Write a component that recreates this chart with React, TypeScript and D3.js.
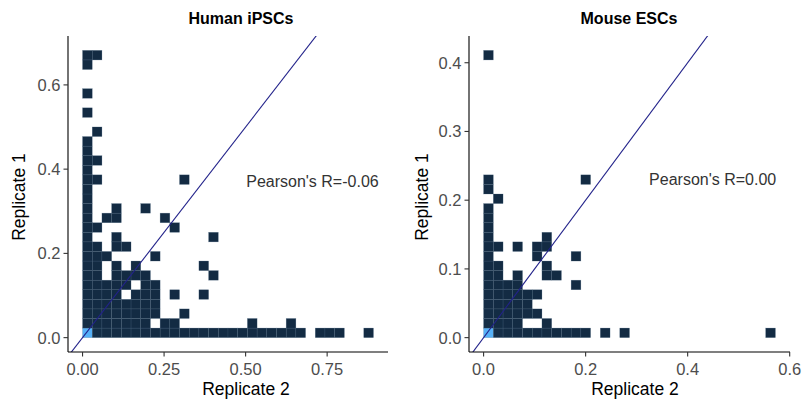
import React from "react";
import * as d3 from "d3";

// ---------- data ----------
const panelTitles = ["Human iPSCs", "Mouse ESCs"];
const pearsonLabels = ["Pearson's R=-0.06", "Pearson's R=0.00"];
// annotation anchor in data units [x, y]
const pearsonAnchors: [number, number][] = [
  [0.705, 0.371],
  [0.449, 0.23],
];

// data maxima (bins span 0..max, 30 bins each way)
const humanXMax = 0.892;
const humanYMax = 0.682;
const mouseXMax = 0.572;
const mouseYMax = 0.418;
const binsPerAxis = 30;

const humanXTicks = [0, 0.25, 0.5, 0.75];
const humanYTicks = [0, 0.2, 0.4, 0.6];
const mouseXTicks = [0, 0.2, 0.4, 0.6];
const mouseYTicks = [0, 0.1, 0.2, 0.3, 0.4];

// cells: [xBin, yBin, count]
const humanCells: [number, number, number][] = [
  [0, 0, 2600], [1, 0, 60], [2, 0, 35], [3, 0, 25], [4, 0, 18], [5, 0, 14], [6, 0, 10], [7, 0, 8],
  [8, 0, 6], [9, 0, 5], [10, 0, 4], [11, 0, 3], [12, 0, 3], [13, 0, 2], [14, 0, 2], [15, 0, 2],
  [16, 0, 2], [17, 0, 1], [18, 0, 1], [19, 0, 1], [20, 0, 1], [21, 0, 1], [22, 0, 1], [24, 0, 1],
  [25, 0, 1], [26, 0, 1], [29, 0, 1],
  [0, 1, 70], [1, 1, 20], [2, 1, 12], [3, 1, 8], [4, 1, 6], [5, 1, 4], [6, 1, 3], [8, 1, 1], [9, 1, 1],
  [17, 1, 1], [21, 1, 1],
  [0, 2, 40], [1, 2, 14], [2, 2, 9], [3, 2, 6], [4, 2, 4], [5, 2, 3], [6, 2, 2], [7, 2, 2], [10, 2, 1],
  [0, 3, 30], [1, 3, 10], [2, 3, 6], [3, 3, 4], [4, 3, 3], [5, 3, 2], [6, 3, 2], [7, 3, 1],
  [0, 4, 22], [1, 4, 8], [2, 4, 5], [3, 4, 3], [5, 4, 2], [6, 4, 1], [7, 4, 1], [9, 4, 1], [12, 4, 1],
  [0, 5, 18], [1, 5, 6], [2, 5, 4], [3, 5, 3], [4, 5, 2], [6, 5, 1], [7, 5, 1],
  [0, 6, 14], [1, 6, 5], [3, 6, 2], [4, 6, 1], [5, 6, 1], [6, 6, 1], [13, 6, 1],
  [0, 7, 12], [1, 7, 4], [3, 7, 1], [5, 7, 1], [12, 7, 1],
  [0, 8, 10], [1, 8, 3], [2, 8, 2], [7, 8, 1],
  [0, 9, 8], [1, 9, 3], [3, 9, 1], [4, 9, 1],
  [0, 10, 6], [3, 10, 1], [13, 10, 1],
  [0, 11, 5], [1, 11, 2], [9, 11, 1],
  [0, 12, 4], [2, 12, 1], [3, 12, 1], [8, 12, 1],
  [0, 13, 4], [3, 13, 1], [6, 13, 1],
  [0, 14, 3],
  [0, 15, 3],
  [0, 16, 2], [1, 16, 1], [10, 16, 1],
  [0, 17, 2],
  [0, 18, 2], [1, 18, 1],
  [0, 19, 1],
  [0, 20, 1],
  [1, 21, 1],
  [0, 23, 1],
  [0, 25, 1],
  [0, 28, 1],
  [0, 29, 1], [1, 29, 1],
];

const mouseCells: [number, number, number][] = [
  [0, 0, 1900], [1, 0, 50], [2, 0, 30], [3, 0, 20], [4, 0, 12], [5, 0, 8], [6, 0, 6], [7, 0, 4],
  [8, 0, 3], [9, 0, 2], [10, 0, 2], [12, 0, 1], [14, 0, 1], [29, 0, 1],
  [0, 1, 55], [1, 1, 16], [2, 1, 8], [3, 1, 4], [6, 1, 1],
  [0, 2, 35], [1, 2, 10], [2, 2, 6], [3, 2, 3], [4, 2, 2], [5, 2, 1],
  [0, 3, 25], [1, 3, 8], [2, 3, 4], [3, 3, 2], [4, 3, 1],
  [0, 4, 18], [1, 4, 6], [2, 4, 3], [3, 4, 2], [4, 4, 1], [5, 4, 1],
  [0, 5, 14], [1, 5, 4], [2, 5, 2], [3, 5, 1], [9, 5, 1],
  [0, 6, 10], [1, 6, 3], [3, 6, 1], [6, 6, 1], [7, 6, 1],
  [0, 7, 8], [1, 7, 2], [6, 7, 1],
  [0, 8, 6], [5, 8, 1], [9, 8, 1],
  [0, 9, 5], [1, 9, 1], [3, 9, 1], [5, 9, 1], [6, 9, 1],
  [0, 10, 4], [6, 10, 1],
  [0, 11, 3],
  [0, 12, 2],
  [0, 13, 2],
  [1, 14, 1],
  [0, 15, 1],
  [0, 16, 1], [10, 16, 1],
  [0, 29, 1],
];

// ---------- styling / layout ----------
const W = 804;
const H = 405;
const FONT = "'Liberation Sans', Arial, Helvetica, sans-serif";
const LOW = "#132B43";
const HIGH = "#56B1F7";

type PanelSpec = {
  title: string;
  label: string;
  anchor: [number, number];
  cells: [number, number, number][];
  xMax: number;
  yMax: number;
  xTicks: number[];
  yTicks: number[];
  xFmt: (v: number) => string;
  yFmt: (v: number) => string;
  left: number;
  right: number;
  titleX: number;
  xTitleX: number;
  yTitleX: number;
};

const top = 36;
const bottom = 352;

const panels: PanelSpec[] = [
  {
    title: panelTitles[0],
    label: pearsonLabels[0],
    anchor: pearsonAnchors[0],
    cells: humanCells,
    xMax: humanXMax,
    yMax: humanYMax,
    xTicks: humanXTicks,
    yTicks: humanYTicks,
    xFmt: d3.format(".2f"),
    yFmt: d3.format(".1f"),
    left: 68,
    right: 388,
    titleX: 241,
    xTitleX: 246,
    yTitleX: 25,
  },
  {
    title: panelTitles[1],
    label: pearsonLabels[1],
    anchor: pearsonAnchors[1],
    cells: mouseCells,
    xMax: mouseXMax,
    yMax: mouseYMax,
    xTicks: mouseXTicks,
    yTicks: mouseYTicks,
    xFmt: d3.format(".1f"),
    yFmt: d3.format(".1f"),
    left: 469,
    right: 790,
    titleX: 629,
    xTitleX: 635,
    yTitleX: 428,
  },
];

function Panel({ p, idx }: { p: PanelSpec; idx: number }) {
  const xPad = p.xMax * 0.05;
  const yPad = p.yMax * 0.05;
  const x = d3.scaleLinear().domain([-xPad, p.xMax + xPad]).range([p.left, p.right]);
  const y = d3.scaleLinear().domain([-yPad, p.yMax + yPad]).range([bottom, top]);
  const bwx = p.xMax / binsPerAxis;
  const bwy = p.yMax / binsPerAxis;
  const counts = p.cells.map((c) => c[2]);
  const color = d3
    .scaleLinear<string>()
    .domain([d3.min(counts)!, d3.max(counts)!])
    .range([LOW, HIGH])
    .interpolate(d3.interpolateLab);
  const clipId = `clip-${idx}`;
  const [d0, d1] = x.domain();
  const lineLo = Math.min(d0, y.domain()[0]);
  const lineHi = Math.max(d1, y.domain()[1]);
  const tickLen = 4.5;
  return (
    <g>
      <defs>
        <clipPath id={clipId}>
          <rect x={p.left} y={top} width={p.right - p.left} height={bottom - top} />
        </clipPath>
      </defs>
      <g clipPath={`url(#${clipId})`}>
        {p.cells.map(([cx, cy, n], i) => {
          const x0 = x(cx * bwx);
          const x1 = x((cx + 1) * bwx);
          const y0 = y((cy + 1) * bwy);
          const y1 = y(cy * bwy);
          return (
            <rect
              key={i}
              x={x0}
              y={y0}
              width={x1 - x0}
              height={y1 - y0}
              fill={color(n)}
              stroke="#4a6580"
              strokeOpacity={0.45}
              strokeWidth={0.5}
            />
          );
        })}
        <line
          x1={x(lineLo)}
          y1={y(lineLo)}
          x2={x(lineHi)}
          y2={y(lineHi)}
          stroke="#22228a"
          strokeWidth={1.1}
        />
      </g>
      <text
        x={x(p.anchor[0])}
        y={y(p.anchor[1])}
        dy="0.35em"
        textAnchor="middle"
        fontFamily={FONT}
        fontSize={16}
        fill="#333333"
      >
        {p.label}
      </text>
      {/* axes */}
      <line x1={p.left} y1={top} x2={p.left} y2={bottom} stroke="#000" strokeWidth={1.1} />
      <line x1={p.left} y1={bottom} x2={p.right} y2={bottom} stroke="#000" strokeWidth={1.1} />
      {p.xTicks.map((t) => (
        <g key={"xt" + t}>
          <line x1={x(t)} x2={x(t)} y1={bottom} y2={bottom + tickLen} stroke="#333" strokeWidth={1.1} />
          <text
            x={x(t)}
            y={bottom + 23}
            textAnchor="middle"
            fontFamily={FONT}
            fontSize={16.5}
            fill="#4D4D4D"
          >
            {p.xFmt(t)}
          </text>
        </g>
      ))}
      {p.yTicks.map((t) => (
        <g key={"yt" + t}>
          <line x1={p.left - tickLen} x2={p.left} y1={y(t)} y2={y(t)} stroke="#333" strokeWidth={1.1} />
          <text
            x={p.left - 7.5}
            y={y(t)}
            dy="0.36em"
            textAnchor="end"
            fontFamily={FONT}
            fontSize={16.5}
            fill="#4D4D4D"
          >
            {p.yFmt(t)}
          </text>
        </g>
      ))}
      <text
        x={p.xTitleX}
        y={395}
        textAnchor="middle"
        fontFamily={FONT}
        fontSize={17.5}
        fill="#000"
      >
        Replicate 2
      </text>
      <text
        transform={`translate(${p.yTitleX},${(top + bottom) / 2 + 3}) rotate(-90)`}
        textAnchor="middle"
        fontFamily={FONT}
        fontSize={17.5}
        fill="#000"
      >
        Replicate 1
      </text>
      <text
        x={p.titleX}
        y={24}
        textAnchor="middle"
        fontFamily={FONT}
        fontWeight="bold"
        fontSize={16}
        fill="#000"
      >
        {p.title}
      </text>
    </g>
  );
}

export default function App() {
  return (
    <svg
      width={W}
      height={H}
      viewBox={`0 0 ${W} ${H}`}
      style={{ position: "absolute", left: 0, top: 0, background: "#fff" }}
    >
      <rect x={0} y={0} width={W} height={H} fill="#fff" />
      {panels.map((p, i) => (
        <Panel key={i} p={p} idx={i} />
      ))}
    </svg>
  );
}
